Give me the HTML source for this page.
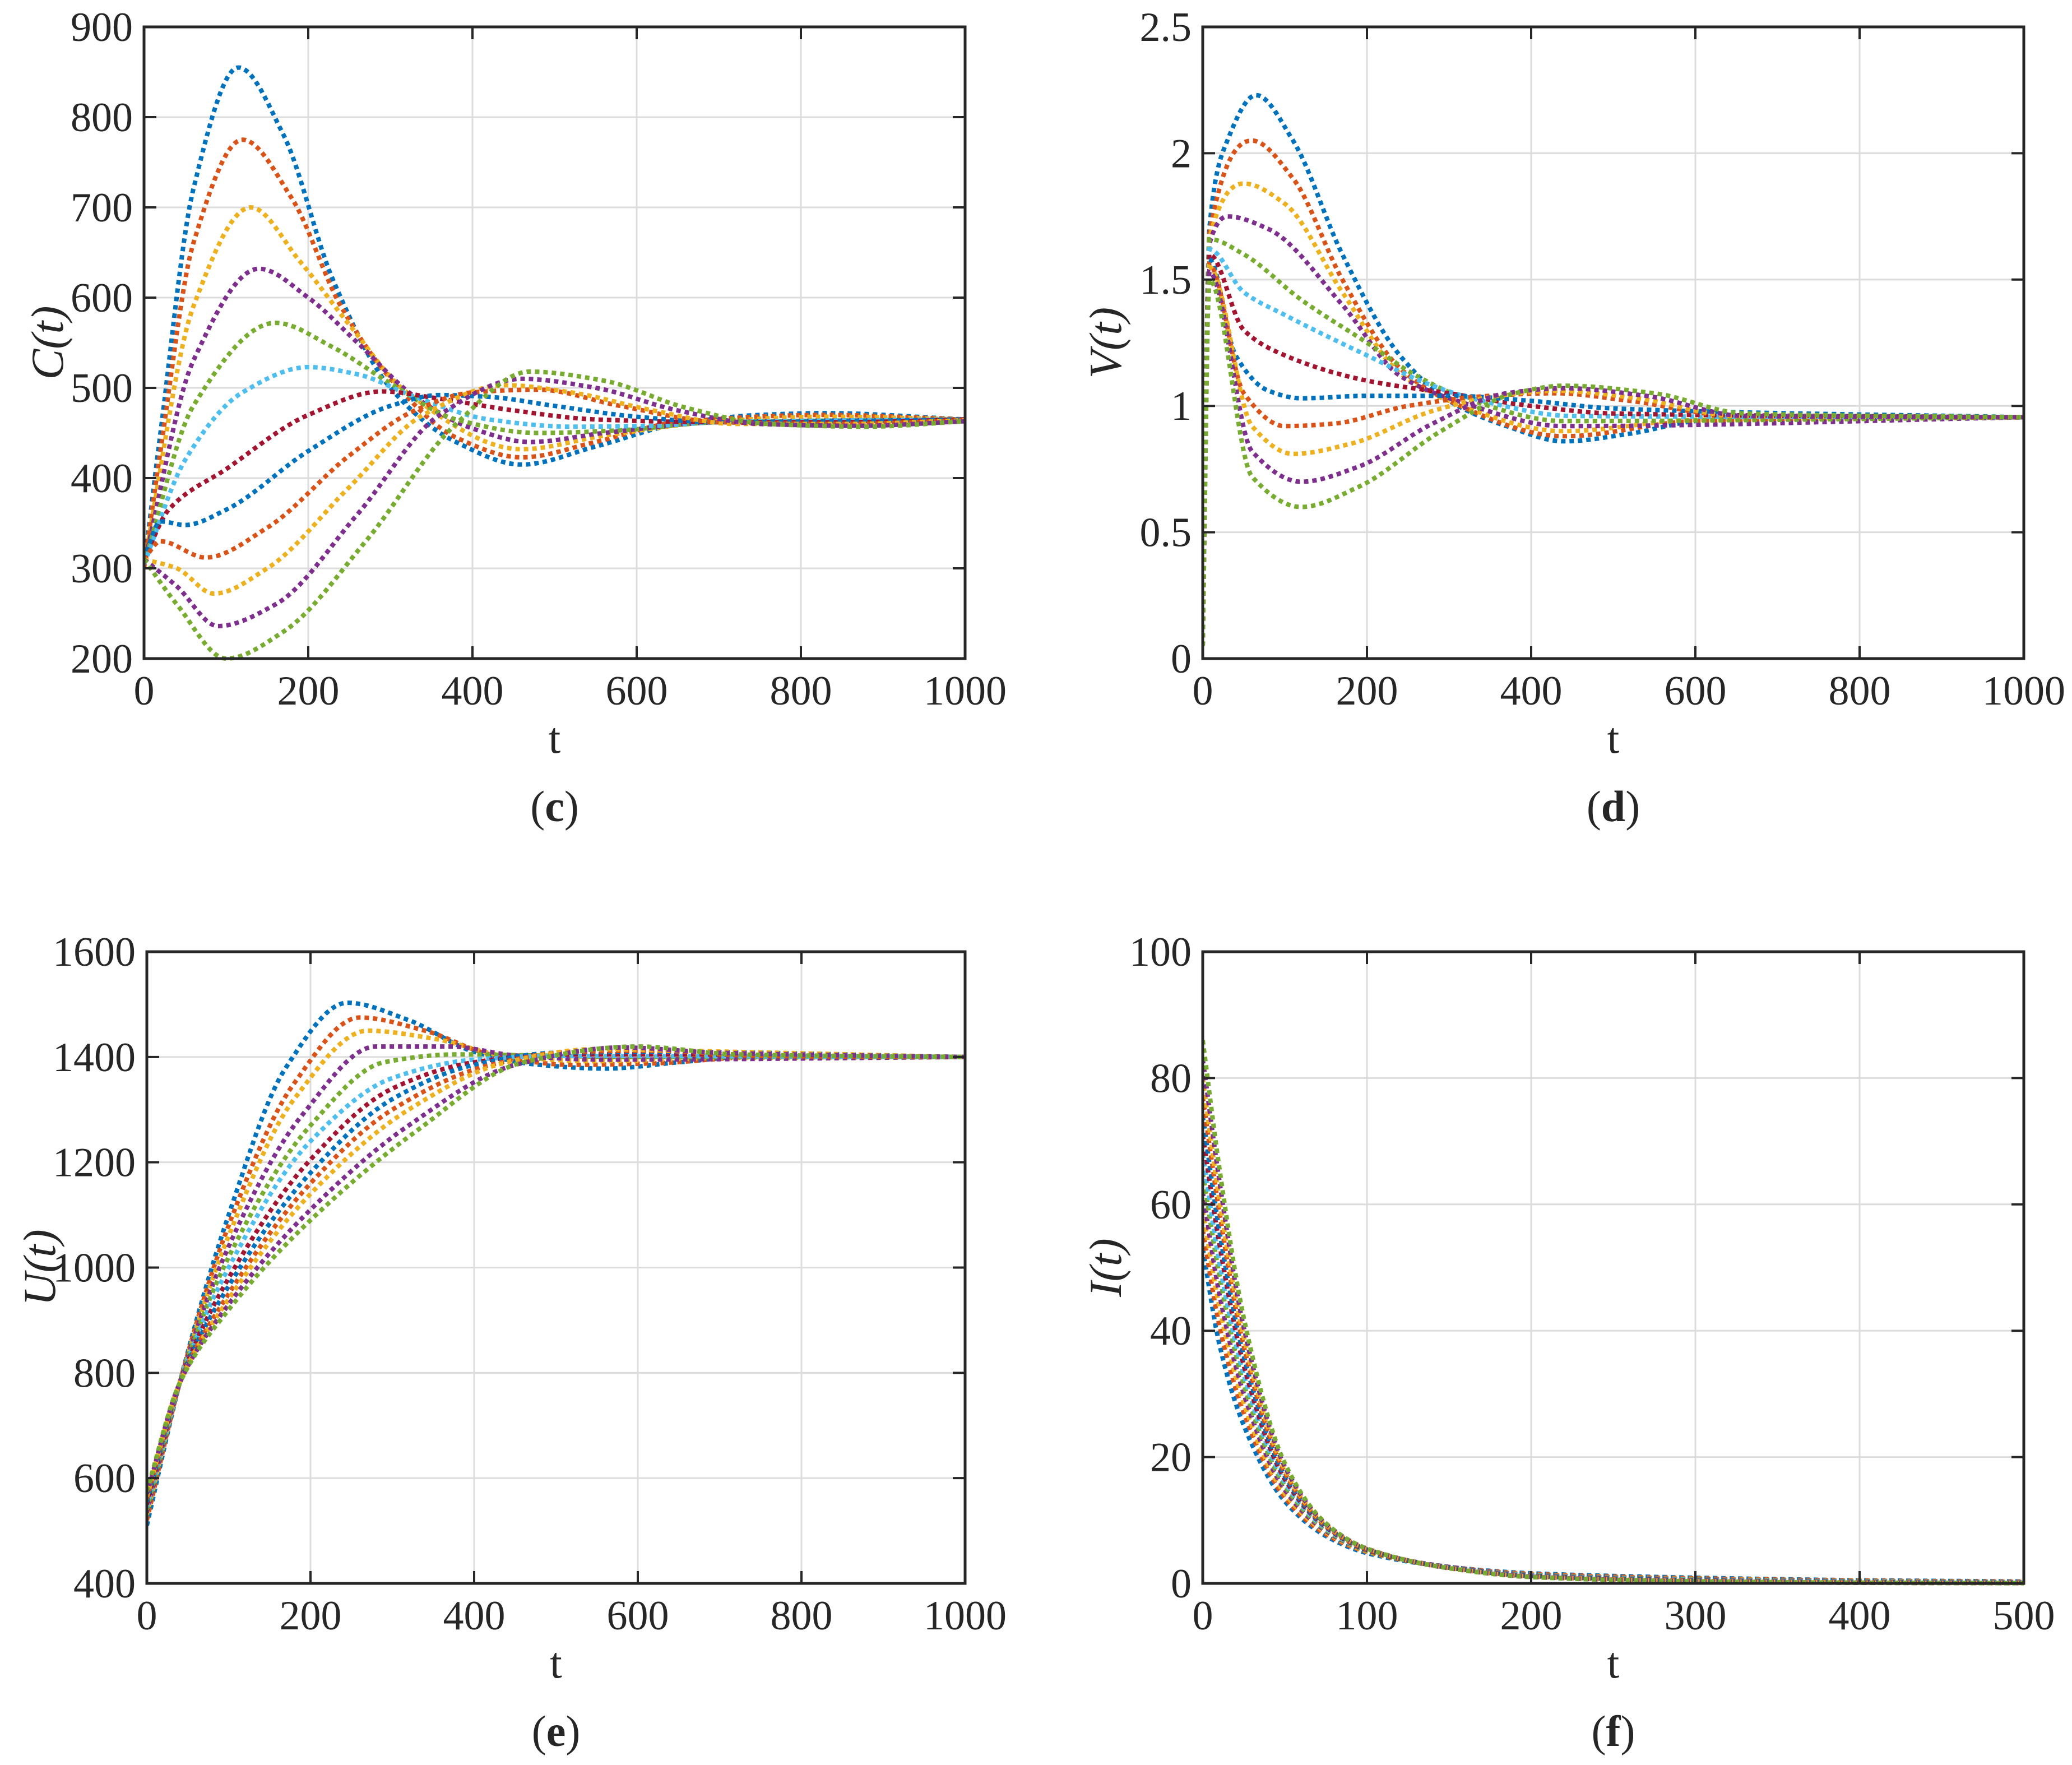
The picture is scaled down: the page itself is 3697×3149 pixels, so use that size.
<!DOCTYPE html>
<html><head><meta charset="utf-8">
<style>
html,body{margin:0;padding:0;background:#fff;}
svg{display:block;font-family:"Liberation Serif",serif;}
</style></head>
<body>
<svg id="fig" width="3697" height="3149" viewBox="0 0 3697 3149" xmlns="http://www.w3.org/2000/svg"></svg>
<script>
const colors = ["#0072BD","#D95319","#EDB120","#7E2F8E","#77AC30","#4DBEEE","#A2142F","#0072BD","#D95319","#EDB120","#7E2F8E","#77AC30"];

// Panel (c) C(t): series as [t, value] pairs
const cSeries = [
 [[0,300],[20,450],[60,720],[115,855],[170,780],[230,620],[300,500],[380,440],[460,415],[550,435],[650,460],[750,470],[830,472],[1000,465]],
 [[0,300],[20,430],[60,660],[120,775],[180,710],[240,590],[310,500],[380,445],[460,423],[550,440],[650,462],[830,470],[1000,465]],
 [[0,305],[60,590],[130,700],[190,640],[250,570],[320,495],[460,432],[560,447],[700,463],[830,468],[1000,465]],
 [[0,305],[60,530],[140,632],[200,600],[260,550],[330,490],[400,455],[470,440],[560,450],[700,462],[1000,465]],
 [[0,305],[60,480],[160,572],[230,545],[300,505],[380,465],[480,450],[580,453],[700,462],[1000,465]],
 [[0,305],[50,420],[120,495],[200,523],[260,515],[330,490],[420,465],[520,457],[620,458],[700,462],[1000,465]],
 [[0,310],[30,365],[100,410],[200,470],[290,496],[360,488],[450,475],[550,465],[700,462],[850,462],[1000,465]],
 [[0,310],[20,352],[50,348],[100,365],[200,430],[300,480],[360,492],[420,490],[500,480],[600,468],[700,462],[850,463],[1000,465]],
 [[0,310],[20,330],[75,312],[150,345],[250,425],[330,475],[400,495],[480,498],[580,480],[700,462],[850,460],[1000,464]],
 [[0,310],[40,300],[85,272],[150,300],[250,390],[340,470],[440,503],[520,495],[620,475],[720,460],[850,460],[1000,464]],
 [[0,310],[40,280],[90,236],[160,260],[260,360],[360,470],[460,510],[550,500],[650,475],[750,460],[870,458],[1000,463]],
 [[0,310],[40,260],[100,200],[170,230],[270,330],[380,460],[470,518],[560,508],[660,478],[760,460],[880,457],[1000,463]]
];
// Panel (d) V(t)
const vSeries = [
 [[0,0.05],[8,1.7],[30,2.05],[65,2.23],[110,2.05],[170,1.6],[240,1.2],[300,1.02],[370,0.92],[440,0.86],[520,0.89],[600,0.94],[700,0.96],[1000,0.955]],
 [[0,0.05],[8,1.68],[60,2.05],[110,1.9],[170,1.5],[240,1.15],[300,1.02],[440,0.88],[600,0.94],[1000,0.955]],
 [[0,0.05],[8,1.66],[50,1.88],[100,1.8],[170,1.45],[240,1.13],[300,1.02],[440,0.9],[600,0.945],[1000,0.955]],
 [[0,0.05],[8,1.64],[30,1.75],[80,1.7],[170,1.4],[240,1.12],[310,1.02],[440,0.92],[1000,0.955]],
 [[0,0.05],[8,1.66],[50,1.6],[120,1.42],[200,1.25],[260,1.12],[320,1.03],[440,0.94],[1000,0.955]],
 [[0,0.05],[8,1.62],[50,1.45],[100,1.36],[200,1.2],[280,1.08],[340,1.02],[450,0.96],[1000,0.955]],
 [[0,0.05],[8,1.6],[50,1.3],[100,1.2],[200,1.1],[300,1.05],[400,1.0],[500,0.97],[1000,0.955]],
 [[0,0.05],[8,1.58],[40,1.2],[80,1.06],[120,1.03],[200,1.04],[300,1.04],[400,1.02],[500,0.99],[1000,0.955]],
 [[0,0.05],[8,1.56],[50,1.05],[100,0.92],[160,0.93],[250,1.0],[350,1.04],[430,1.05],[520,1.02],[650,0.96],[1000,0.955]],
 [[0,0.05],[8,1.55],[60,0.92],[110,0.81],[180,0.85],[280,0.98],[360,1.04],[430,1.06],[530,1.03],[650,0.96],[1000,0.955]],
 [[0,0.05],[8,1.53],[60,0.82],[120,0.7],[190,0.76],[280,0.93],[370,1.05],[440,1.07],[540,1.04],[660,0.96],[1000,0.955]],
 [[0,0.05],[8,1.5],[60,0.72],[120,0.6],[190,0.68],[290,0.9],[380,1.05],[440,1.08],[550,1.05],[660,0.97],[1000,0.955]]
];
// Panel (e) U(t)
const uSeries = [
 [[0,510],[40,780],[100,1100],[170,1380],[245,1503],[320,1470],[400,1410],[480,1385],[560,1378],[650,1390],[750,1402],[1000,1400]],
 [[0,520],[40,780],[100,1080],[180,1350],[260,1475],[340,1450],[420,1405],[520,1385],[620,1388],[750,1400],[1000,1400]],
 [[0,530],[40,780],[100,1060],[180,1320],[270,1450],[350,1435],[440,1402],[550,1392],[700,1398],[1000,1400]],
 [[0,535],[40,780],[100,1040],[190,1290],[280,1420],[370,1420],[450,1403],[560,1395],[1000,1400]],
 [[0,540],[40,780],[100,1020],[200,1270],[290,1390],[380,1405],[470,1403],[600,1400],[1000,1400]],
 [[0,545],[40,780],[100,1000],[200,1240],[300,1360],[400,1395],[500,1402],[1000,1400]],
 [[0,550],[40,780],[100,980],[200,1205],[300,1340],[400,1390],[500,1405],[620,1405],[1000,1400]],
 [[0,555],[40,780],[100,965],[200,1180],[300,1320],[400,1385],[500,1408],[620,1410],[1000,1400]],
 [[0,560],[40,780],[100,950],[200,1160],[300,1300],[420,1385],[520,1410],[620,1412],[750,1402],[1000,1400]],
 [[0,565],[40,780],[100,940],[200,1140],[320,1300],[440,1390],[550,1415],[650,1412],[1000,1400]],
 [[0,570],[40,780],[100,930],[200,1110],[320,1270],[450,1385],[580,1418],[700,1408],[1000,1400]],
 [[0,575],[40,780],[100,920],[200,1090],[330,1260],[460,1390],[600,1420],[720,1405],[1000,1400]]
];
// Panel (f) I(t)
const iTimes = [0,10,25,50,75,100,150,200,300,400,500];
const iValues = [
 [53,38,25,13,7.5,4.8,2.6,1.6,0.9,0.5,0.3],
 [56,41,27,13.6,7.8,5.0,2.6,1.5,0.8,0.45,0.25],
 [59,44,28.5,14.2,8.1,5.1,2.6,1.4,0.7,0.4,0.2],
 [62,46,30,14.8,8.3,5.2,2.6,1.35,0.65,0.35,0.18],
 [65,49,31.5,15.4,8.5,5.2,2.5,1.3,0.6,0.3,0.15],
 [68,51,33,16,8.7,5.3,2.5,1.25,0.55,0.25,0.12],
 [71,54,34.5,16.5,8.9,5.3,2.5,1.2,0.5,0.2,0.1],
 [74,56,36,17,9.0,5.4,2.5,1.15,0.45,0.18,0.08],
 [77,59,37.5,17.5,9.1,5.4,2.45,1.1,0.4,0.15,0.06],
 [80,61,39,18,9.3,5.5,2.45,1.08,0.35,0.12,0.05],
 [83,64,40.5,18.5,9.4,5.5,2.4,1.05,0.32,0.1,0.04],
 [86,66,42,19,9.5,5.5,2.4,1.0,0.3,0.1,0.03]
];
const iSeries = iValues.map(v => v.map((y,k)=>[iTimes[k],y]));

const cTicksY = [200,300,400,500,600,700,800,900];
const vTicksY = [0,0.5,1,1.5,2,2.5];
const uTicksY = [400,600,800,1000,1200,1400,1600];
const iTicksY = [0,20,40,60,80,100];
const xTicks1000 = [0,200,400,600,800,1000];
const xTicks500 = [0,100,200,300,400,500];

const NS = "http://www.w3.org/2000/svg";
const fig = document.getElementById('fig');
function mk(tag, attrs, parent){
  const e = document.createElementNS(NS, tag);
  for (const k in attrs) e.setAttribute(k, attrs[k]);
  (parent||fig).appendChild(e);
  return e;
}
// monotone cubic (Fritsch-Carlson) interpolation
function spline(pts){
  const n=pts.length, xs=pts.map(p=>p[0]), ys=pts.map(p=>p[1]);
  const d=[],m=new Array(n);
  for(let i=0;i<n-1;i++) d.push((ys[i+1]-ys[i])/(xs[i+1]-xs[i]));
  m[0]=d[0]; m[n-1]=d[n-2];
  for(let i=1;i<n-1;i++){
    if(d[i-1]*d[i]<=0) m[i]=0;
    else { const w1=2*(xs[i+1]-xs[i])+(xs[i]-xs[i-1]), w2=(xs[i+1]-xs[i])+2*(xs[i]-xs[i-1]);
      m[i]=(w1+w2)/(w1/d[i-1]+w2/d[i]); }
  }
  const out=[];
  for(let i=0;i<n-1;i++){
    const h=xs[i+1]-xs[i], N=Math.max(4,Math.ceil(h/2));
    for(let s=0;s<N;s++){
      const t=s/N,t2=t*t,t3=t2*t;
      const y=(2*t3-3*t2+1)*ys[i]+(t3-2*t2+t)*h*m[i]+(-2*t3+3*t2)*ys[i+1]+(t3-t2)*h*m[i+1];
      out.push([xs[i]+t*h,y]);
    }
  }
  out.push(pts[n-1]);
  return out;
}
function fmt(v){return String(v);}

function panel(o){
  const g = mk('g',{});
  
  
  const X = v => o.x0 + (v-o.xmin)/(o.xmax-o.xmin)*(o.x1-o.x0);
  const Y = v => o.y1 - (v-o.ymin)/(o.ymax-o.ymin)*(o.y1-o.y0);
  o.xt.forEach(t=>{ const l=mk('line',{x1:X(t),x2:X(t),y1:o.y0,y2:o.y1,stroke:'#dcdcdc','stroke-width':3},g);
     });
  o.yt.forEach(t=>{ const l=mk('line',{x1:o.x0,x2:o.x1,y1:Y(t),y2:Y(t),stroke:'#dcdcdc','stroke-width':3},g);
     });
  const clip = mk('clipPath',{id:o.name+'-clip'},g);
  mk('rect',{x:o.x0,y:o.y0-6,width:o.x1-o.x0,height:o.y1-o.y0+12},clip);
  const sg = mk('g',{'clip-path':'url(#'+o.name+'-clip)'},g);
  o.series.forEach((s,i)=>{
    const pts = spline(s).map(p=>[X(p[0]),Y(p[1])]);
    const d = 'M'+pts.map(p=>p[0].toFixed(1)+','+p[1].toFixed(1)).join('L');
    const p = mk('path',{d:d,fill:'none',stroke:colors[i],'stroke-width':8,'stroke-dasharray':'8 7'},sg);
    
    
  });
  const b = mk('rect',{x:o.x0,y:o.y0,width:o.x1-o.x0,height:o.y1-o.y0,fill:'none',stroke:'#262626','stroke-width':5},g);
   
  o.xt.forEach(t=>{
    mk('line',{x1:X(t),x2:X(t),y1:o.y1,y2:o.y1-22,stroke:'#262626','stroke-width':4},g);
    mk('line',{x1:X(t),x2:X(t),y1:o.y0,y2:o.y0+22,stroke:'#262626','stroke-width':4},g);
    const tx=mk('text',{x:X(t),y:o.y1+82,'text-anchor':'middle','font-size':74,fill:'#262626'},g);
    tx.textContent=fmt(t);
     
  });
  o.yt.forEach(t=>{
    mk('line',{x1:o.x0,x2:o.x0+22,y1:Y(t),y2:Y(t),stroke:'#262626','stroke-width':4},g);
    mk('line',{x1:o.x1,x2:o.x1-22,y1:Y(t),y2:Y(t),stroke:'#262626','stroke-width':4},g);
    const tx=mk('text',{x:o.x0-20,y:Y(t)+25,'text-anchor':'end','font-size':74,fill:'#262626'},g);
    tx.textContent=fmt(t);
     
  });
  const xl=mk('text',{x:(o.x0+o.x1)/2,y:o.y1+168,'text-anchor':'middle','font-size':78,fill:'#262626'},g);
  xl.textContent='t';
   
  const cy=(o.y0+o.y1)/2;
  const yl=mk('text',{x:o.ylx,y:cy,'text-anchor':'middle','font-size':82,fill:'#262626','font-style':'italic',transform:'rotate(-90 '+o.ylx+' '+cy+')'},g);
  yl.textContent=o.ylabel+'(t)';
   
  const cap=mk('text',{x:(o.x0+o.x1)/2,y:o.y1+290,'text-anchor':'middle','font-size':78,fill:'#262626'},g);
  cap.innerHTML='(<tspan font-weight="bold">'+o.cap+'</tspan>)';
   
}

panel({name:'panel-c',x0:257,x1:1722,y0:48,y1:1175,xmin:0,xmax:1000,ymin:200,ymax:900,xt:xTicks1000,yt:cTicksY,series:cSeries,ylabel:'C',ylx:112,cap:'c'});
panel({name:'panel-d',x0:2146,x1:3611,y0:48,y1:1175,xmin:0,xmax:1000,ymin:0,ymax:2.5,xt:xTicks1000,yt:vTicksY,series:vSeries,ylabel:'V',ylx:2000,cap:'d'});
panel({name:'panel-e',x0:262,x1:1722,y0:1698,y1:2825,xmin:0,xmax:1000,ymin:400,ymax:1600,xt:xTicks1000,yt:uTicksY,series:uSeries,ylabel:'U',ylx:98,cap:'e'});
panel({name:'panel-f',x0:2146,x1:3611,y0:1698,y1:2825,xmin:0,xmax:500,ymin:0,ymax:100,xt:xTicks500,yt:iTicksY,series:iSeries,ylabel:'I',ylx:2000,cap:'f'});
</script>
</body></html>
